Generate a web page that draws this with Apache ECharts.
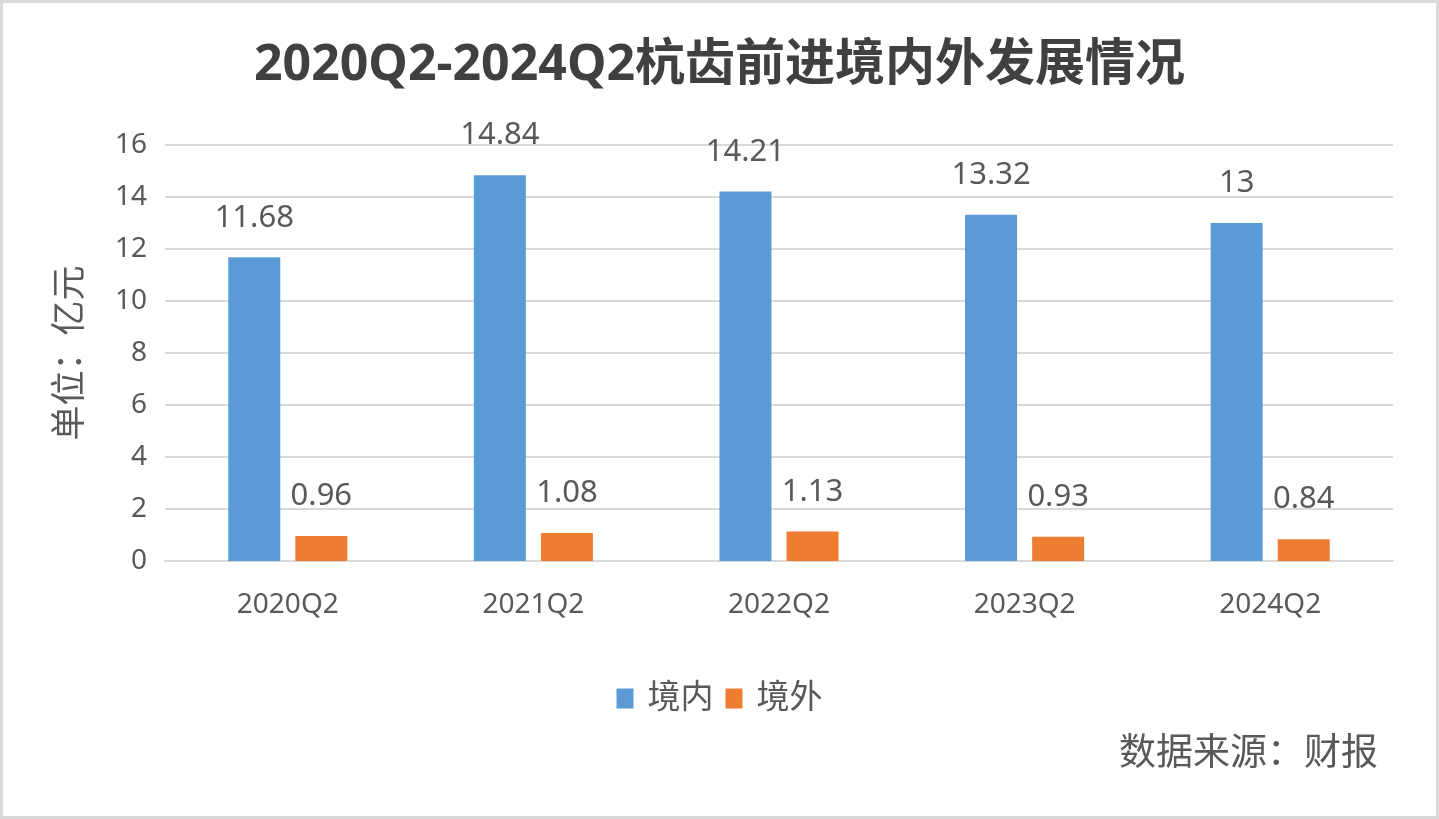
<!DOCTYPE html>
<html><head><meta charset="utf-8">
<script src="https://cdn.jsdelivr.net/npm/echarts@6/dist/echarts.min.js"></script>
<style>
html,body{margin:0;padding:0;background:#fff;}
#c{width:1439px;height:819px;box-sizing:border-box;border:3px solid #dadada;}
</style></head>
<body><div id="c"></div>
<script>
const categories = ['2020Q2','2021Q2','2022Q2','2023Q2','2024Q2'];
const domestic = [11.68, 14.84, 14.21, 13.32, 13];
const overseas = [0.96, 1.08, 1.13, 0.93, 0.84];
const seriesNames = ['境内','境外'];
const titleText = '2020Q2-2024Q2杭齿前进境内外发展情况';
const yAxisName = '单位：亿元';
const sourceText = '数据来源：财报';

const FONT = "'Noto Sans', 'Noto Sans CJK SC', sans-serif";
const GRAY = '#595959';
const chart = echarts.init(document.getElementById('c'));
chart.setOption({
  backgroundColor: '#fff',
  animation: false,
  title: {
    text: titleText, left: 'center', top: 33,
    textStyle: {fontFamily: FONT, fontSize: 50, fontWeight: 'bold', color: '#404040'}
  },
  legend: {
    data: seriesNames, bottom: 96, left: 'center', icon: 'rect',
    itemWidth: 17, itemHeight: 20, itemGap: 12,
    textStyle: {fontFamily: FONT, fontSize: 33, color: GRAY, padding: [0, 0, 0, 9]}
  },
  graphic: [{
    type: 'text', right: 58, top: 729,
    style: {text: sourceText, font: "37px 'Noto Sans CJK SC', sans-serif", fill: GRAY}
  }],
  grid: {left: 162, right: 43, top: 142, bottom: 255},
  xAxis: {
    type: 'category', data: categories,
    axisLine: {show: true, lineStyle: {color: '#d9d9d9', width: 2}},
    axisTick: {show: false},
    axisLabel: {fontFamily: FONT, fontSize: 28, color: GRAY, margin: 30}
  },
  yAxis: {
    type: 'value', min: 0, max: 16, interval: 2,
    name: yAxisName, nameLocation: 'middle', nameGap: 76,
    nameTextStyle: {fontFamily: FONT, fontSize: 35, color: GRAY},
    axisLine: {show: false}, axisTick: {show: false},
    axisLabel: {fontFamily: FONT, fontSize: 28, color: GRAY, margin: 18},
    splitLine: {lineStyle: {color: '#d9d9d9', width: 2}}
  },
  series: [
    {name: seriesNames[0], type: 'bar', data: domestic, barWidth: 52, barGap: '29%',
     itemStyle: {color: '#5b9bd5'},
     label: {show: true, position: 'top', distance: 24, fontFamily: FONT, fontSize: 31, color: GRAY}},
    {name: seriesNames[1], type: 'bar', data: overseas, barWidth: 52,
     itemStyle: {color: '#ed7d31'},
     label: {show: true, position: 'top', distance: 24, fontFamily: FONT, fontSize: 31, color: GRAY}}
  ]
});
</script></body></html>
